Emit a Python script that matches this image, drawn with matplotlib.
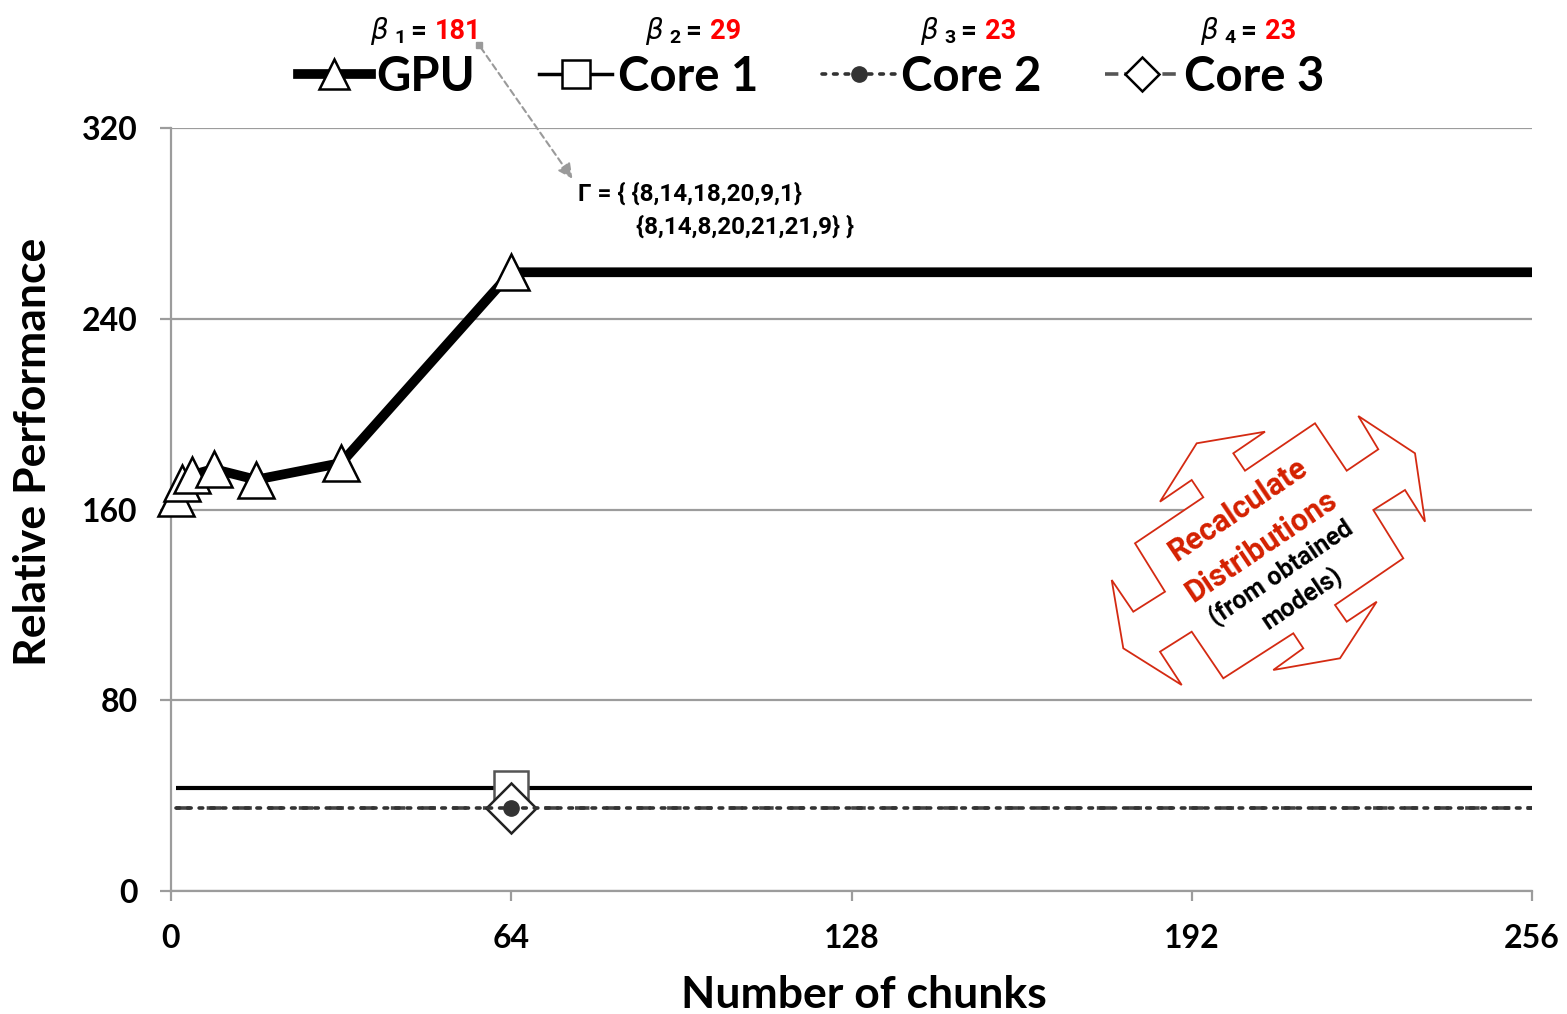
import matplotlib
matplotlib.use('Agg')
import matplotlib.pyplot as plt
from matplotlib.transforms import IdentityTransform
from matplotlib.patches import Polygon, FancyArrowPatch
from matplotlib.lines import Line2D

# ---------------- data ----------------
gpu_x = [1, 2, 4, 8, 16, 32, 64, 256]
gpu_y = [165, 171, 174.5, 177, 172.5, 179.5, 259.5, 259.5]
core_x = [1, 64, 256]
core1_y = [43, 43, 43]
core2_y = [35, 35, 35]
core3_y = [35, 35, 35]
series_names = ['GPU', 'Core 1', 'Core 2', 'Core 3']
beta_index = ['1', '2', '3', '4']
beta_values = ['181', '29', '23', '23']
gamma_lines = ['\u0393 = { {8,14,18,20,9,1}', '{8,14,8,20,21,21,9} }']
callout_lines = ['Recalculate', 'Distributions', '(from obtained', 'models)']
x_ticks = [0, 64, 128, 192, 256]
y_ticks = [0, 80, 160, 240, 320]

# ---------------- figure ----------------
W, H = 1567, 1014
fig = plt.figure(figsize=(W / 100, H / 100), dpi=100)
ax = fig.add_axes([171 / W, 1 - 891 / H, (1532 - 171) / W, (891 - 128) / H])
ID = IdentityTransform()


def P(x, y):
    return (x, H - y)


MAIN = 'Lato'
NARROW = ['Roboto', 'DejaVu Sans']
gray = '#9c9c9c'

# ---------------- series ----------------
ax.plot(core_x, core1_y, color='black', lw=3, marker='s', ms=25, mfc='white',
        mec='#555555', mew=1.8, markevery=[1], zorder=3, solid_capstyle='butt')
ax.plot(core_x, core3_y, color='#444444', lw=2.6, ls=(0, (4, 4.5)), marker='D', ms=25,
        mfc='white', mec='#222222', mew=1.8, markevery=[1], zorder=4)
ax.plot(core_x, core2_y, color='#333333', lw=2.6, ls=(0, (1, 2.2)), marker='o', ms=11,
        mfc='#333333', mec='#333333', markevery=[1], zorder=5, dash_capstyle='round')
ax.plot(gpu_x, gpu_y, color='black', lw=7, marker='^', ms=26, mfc='white', mec='black',
        mew=1.8, markevery=list(range(7)), zorder=6, clip_on=False,
        solid_capstyle='butt')

# ---------------- axes styling ----------------
ax.set_xlim(0, 256)
ax.set_ylim(0, 320)
ax.set_xticks(x_ticks)
ax.set_yticks(y_ticks)
ax.set_xticklabels([str(v) for v in x_ticks], fontfamily=MAIN, fontweight='bold', fontsize=23)
ax.set_yticklabels([str(v) for v in y_ticks], fontfamily=MAIN, fontweight='bold', fontsize=23)
for s in ['top', 'right']:
    ax.spines[s].set_visible(False)
for s in ['left', 'bottom']:
    ax.spines[s].set_color(gray)
    ax.spines[s].set_linewidth(1.6)
ax.tick_params(axis='y', direction='out', length=8, width=1.6, color=gray, pad=16)
ax.tick_params(axis='x', direction='out', length=7, width=1.6, color=gray, pad=17)
ax.yaxis.grid(True, color=gray, lw=1.6)
ax.set_axisbelow(True)

fig.text(864 / W, 1 - 995 / H, 'Number of chunks', fontfamily=MAIN, fontweight='bold',
         fontsize=32, ha='center', va='center')
fig.text(33 / W, 1 - 452 / H, 'Relative Performance', fontfamily=MAIN, fontweight='bold',
         fontsize=32, ha='center', va='center', rotation=90)

# ---------------- legend ----------------
handles = [
    Line2D([], [], color='black', lw=7, marker='^', ms=21, mfc='white', mec='black', mew=1.8),
    Line2D([], [], color='black', lw=2.5, marker='s', ms=20, mfc='white', mec='black', mew=1.8),
    Line2D([], [], color='#333333', lw=2.6, ls=(0, (1, 2.2)), marker='o', ms=11,
           mfc='#333333', mec='#333333', dash_capstyle='round'),
    Line2D([], [], color='#555555', lw=2.6, ls='--', marker='D', ms=17, mfc='white',
           mec='black', mew=1.8),
]
fig.legend(handles, series_names, loc='center', bbox_to_anchor=(811 / W, 1 - 77 / H),
           ncol=4, frameon=False, handlelength=1.55, handletextpad=0.12, columnspacing=1.35,
           prop={'family': MAIN, 'weight': 'bold', 'size': 34})

# ---------------- beta labels ----------------
beta_left = [370, 645, 920, 1200]
for xl, idx, val in zip(beta_left, beta_index, beta_values):
    fig.text(xl, H - 39, '\u03b2', transform=ID, fontfamily='DejaVu Sans', fontstyle='italic',
             fontsize=20, ha='left', va='baseline')
    fig.text(xl + 24, H - 43, idx, transform=ID, fontfamily=NARROW, fontweight='bold',
             fontsize=14, ha='left', va='baseline')
    fig.text(xl + 40, H - 39, '=', transform=ID, fontfamily=NARROW, fontweight='bold',
             fontsize=20, ha='left', va='baseline')
    fig.text(xl + 65, H - 39, val, transform=ID, fontfamily=NARROW, fontweight='bold',
             fontsize=19.5, ha='left', va='baseline', color='#ff0000')

# ---------------- gamma annotation ----------------
arr = FancyArrowPatch(P(479, 45), P(574, 181), transform=ID, arrowstyle='-|>',
                      mutation_scale=22, linestyle=(0, (3, 2)), color='#9a9a9a', lw=1.5)
fig.patches.append(arr)
fig.lines.append(Line2D([479], [H - 45], transform=ID, marker='s', ms=5, color='#9a9a9a'))
fig.text(578, H - 201, gamma_lines[0], transform=ID, fontfamily=NARROW, fontweight='bold',
         fontsize=17.5, ha='left', va='baseline')
fig.text(636, H - 234, gamma_lines[1], transform=ID, fontfamily=NARROW, fontweight='bold',
         fontsize=17.5, ha='left', va='baseline')

# ---------------- red callout shape ----------------
shape_px = [(1196.7, 443.3), (1265, 431.7), (1233.3, 453.3), (1245, 470.7), (1315, 423.3),
            (1346.7, 470.7), (1378.3, 449.3), (1358.3, 416), (1415, 453.3), (1425, 521.7),
            (1405, 490), (1373.3, 510), (1403.3, 558.3), (1335, 605), (1346.7, 621.7),
            (1376.7, 601.7), (1340, 658.3), (1273.3, 670), (1303.3, 648.3), (1293.3, 633.3),
            (1223.3, 678.3), (1191.7, 631.7), (1160, 651.7), (1181.7, 685), (1123.3, 648.3),
            (1111.7, 580), (1133.3, 611.7), (1165, 591.7), (1135, 543.3), (1203.3, 497.3),
            (1191.7, 480), (1160, 501.7)]
poly = Polygon([P(x, y) for x, y in shape_px], closed=True, transform=ID,
               facecolor='white', edgecolor='#d42a12', lw=1.3, zorder=10)
fig.patches.append(poly)

red = '#d42000'
callout_pos = [(1238, 510), (1261, 546), (1281, 573), (1302, 598)]
callout_style = [(red, 22), (red, 22), ('black', 18), ('black', 18)]
for txt, (cx, cy), (col, fs) in zip(callout_lines, callout_pos, callout_style):
    fig.text(cx, H - cy, txt, transform=ID, fontfamily=NARROW, fontweight='bold',
             fontsize=fs, color=col, ha='center', va='center', rotation=34,
             rotation_mode='anchor', zorder=11)

fig.savefig('out.png', dpi=100)
